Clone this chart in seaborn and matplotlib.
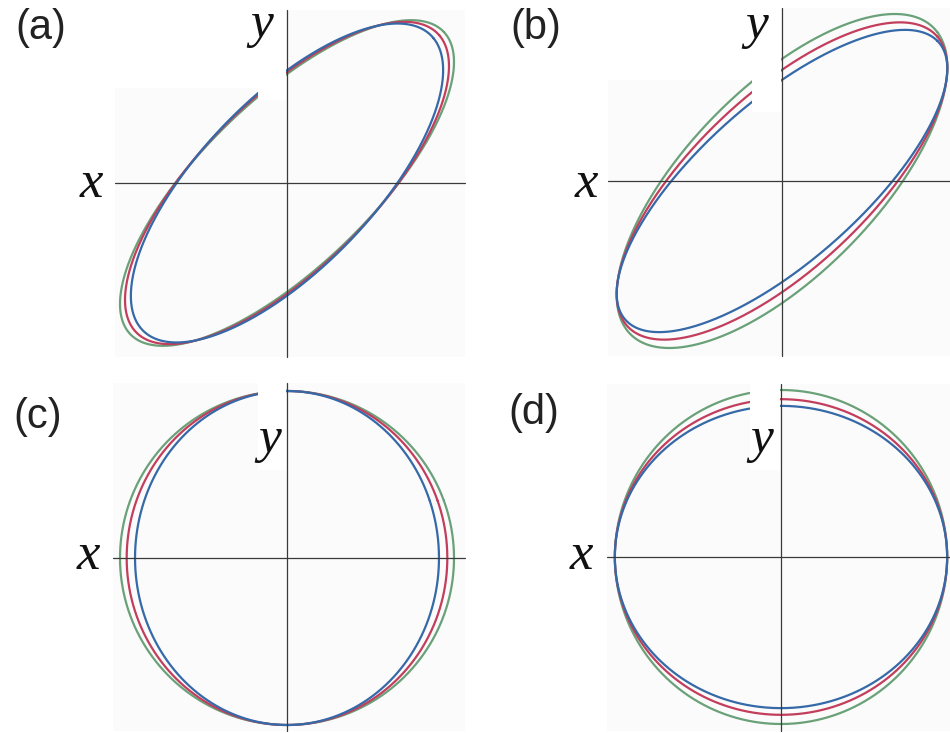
import numpy as np
import pandas as pd
import matplotlib
matplotlib.use("Agg")
import matplotlib.pyplot as plt
from matplotlib.patches import Rectangle
import seaborn as sns

# Lissajous figures x = A cos(t), y = B cos(t - phase) for three traces per panel
panels = ["(a)", "(b)", "(c)", "(d)"]
series = ["green", "red", "blue"]

amp_x_a = [1.00, 0.97, 0.935]
amp_y_a = [0.975, 0.965, 0.955]
phase_a = [42.0, 43.5, 45.0]

amp_x_b = [0.99, 0.99, 0.99]
amp_y_b = [1.00, 0.95, 0.905]
phase_b = [47.0, 44.5, 42.0]

amp_x_c = [1.00, 0.96, 0.91]
amp_y_c = [1.00, 1.00, 1.00]
phase_c = [90.0, 90.0, 90.0]

amp_x_d = [0.995, 0.995, 0.995]
amp_y_d = [1.00, 0.945, 0.905]
phase_d = [90.0, 90.0, 90.0]

colors = {"green": "#6aa178", "red": "#c23e5c", "blue": "#3569a8"}

sns.set_theme(style="white")
plt.rcParams["font.family"] = ["Liberation Sans", "DejaVu Sans"]

W, H, DPI = 950, 733, 100
S = 167.0  # pixels per unit amplitude

fig = plt.figure(figsize=(W / DPI, H / DPI), dpi=DPI)
fig.patch.set_facecolor("white")

# layout of each quadrant (pixel boxes measured from the top-left corner)
layout = {
    "(a)": dict(box=(0, 0, 475, 366), c=(287, 183), h=(115, 465), v=(10, 357),
                bg=(115, 10, 465, 357),
                mask=[(110, 0, 286, 88), (258, 0, 286, 100)],
                xl=(91, 197), yl=(262, 37), pl=(15, 39),
                A=amp_x_a, B=amp_y_a, P=phase_a),
    "(b)": dict(box=(475, 0, 950, 366), c=(782, 181), h=(608, 950), v=(8, 356),
                bg=(608, 8, 950, 356),
                mask=[(600, 0, 781, 80), (752, 0, 781, 112)],
                xl=(586, 197), yl=(757, 38), pl=(510, 39),
                A=amp_x_b, B=amp_y_b, P=phase_b),
    "(c)": dict(box=(0, 366, 475, 733), c=(287, 558), h=(113, 465), v=(383, 731),
                bg=(113, 383, 465, 731),
                mask=[(258, 366, 286, 470)],
                xl=(88, 569), yl=(270, 452), pl=(13, 428),
                A=amp_x_c, B=amp_y_c, P=phase_c),
    "(d)": dict(box=(475, 366, 950, 733), c=(781, 557), h=(607, 950), v=(384, 731),
                bg=(607, 384, 950, 731),
                mask=[(750, 366, 780, 470)],
                xl=(581, 569), yl=(762, 452), pl=(508, 424),
                A=amp_x_d, B=amp_y_d, P=phase_d),
}

t = np.linspace(0.35, 0.35 + 2 * np.pi, 900)

for name in panels:
    L = layout[name]
    x0, y0, x1, y1 = L["box"]
    cx, cy = L["c"]
    ax = fig.add_axes([x0 / W, 1 - y1 / H, (x1 - x0) / W, (y1 - y0) / H])
    ax.set_xlim((x0 - cx) / S, (x1 - cx) / S)
    ax.set_ylim((cy - y1) / S, (cy - y0) / S)
    ax.set_axis_off()

    def px(u, v):
        return (u - cx) / S, (cy - v) / S

    a, b, c, d = L["bg"]
    (u0, v0), (u1, v1) = px(a, d), px(c, b)
    ax.add_patch(Rectangle((u0, v0), u1 - u0, v1 - v0, facecolor="#fbfbfb",
                           edgecolor="none", zorder=0))

    frames = []
    for s, A, B, P in zip(series, L["A"], L["B"], L["P"]):
        ph = np.deg2rad(P)
        frames.append(pd.DataFrame({"x": A * np.cos(t), "y": B * np.cos(t - ph),
                                    "trace": s}))
    df = pd.concat(frames, ignore_index=True)
    sns.lineplot(data=df, x="x", y="y", hue="trace", palette=colors, sort=False,
                 estimator=None, units="trace", lw=1.6, legend=False, ax=ax,
                 zorder=2)

    for (a, b, c, d) in L["mask"]:
        (u0, v0), (u1, v1) = px(a, d), px(c, b)
        ax.add_patch(Rectangle((u0, v0), u1 - u0, v1 - v0, facecolor="white",
                               edgecolor="none", zorder=3))

    hx0, hx1 = L["h"]
    vy0, vy1 = L["v"]
    ax.plot([(hx0 - cx) / S, (hx1 - cx) / S], [0, 0], color="#3a3a3a", lw=0.9,
            zorder=4, clip_on=False)
    ax.plot([0, 0], [(cy - vy0) / S, (cy - vy1) / S], color="#3a3a3a", lw=0.9,
            zorder=4, clip_on=False)

    fx, fy = L["xl"]
    fig.text(fx / W, 1 - fy / H, "x", ha="center", va="baseline", fontsize=38,
             family="Liberation Serif", style="italic", color="#111111", zorder=5)
    fx, fy = L["yl"]
    fig.text(fx / W, 1 - fy / H, "y", ha="center", va="baseline", fontsize=37,
             family="Liberation Serif", style="italic", color="#111111", zorder=5)
    fx, fy = L["pl"]
    fig.text(fx / W, 1 - fy / H, name, ha="left", va="baseline", fontsize=30,
             family="Liberation Sans", color="#222222", zorder=5)

fig.savefig("out.png", dpi=DPI, facecolor="white")
